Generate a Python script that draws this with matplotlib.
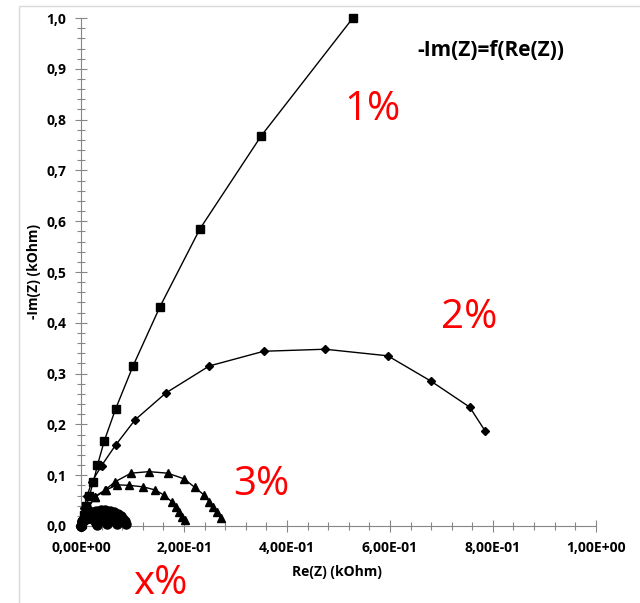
import matplotlib.pyplot as plt
from matplotlib.patches import Rectangle

# --- data (Re(Z), -Im(Z)) in kOhm ---
re_1 = [0.528, 0.350, 0.231, 0.153, 0.101, 0.067, 0.045, 0.032, 0.024, 0.016, 0.010, 0.005, 0.001]
im_1 = [1.000, 0.768, 0.585, 0.431, 0.315, 0.230, 0.167, 0.120, 0.087, 0.059, 0.040, 0.022, 0.006]

re_2 = [0.785, 0.755, 0.680, 0.596, 0.474, 0.355, 0.249, 0.165, 0.105, 0.067, 0.040, 0.021, 0.012, 0.006, 0.002]
im_2 = [0.187, 0.234, 0.285, 0.335, 0.348, 0.344, 0.315, 0.262, 0.209, 0.159, 0.119, 0.087, 0.060, 0.035, 0.012]

re_3a = [0.271, 0.265, 0.257, 0.249, 0.239, 0.221, 0.200, 0.168, 0.132, 0.097, 0.066, 0.047, 0.027, 0.015, 0.006, 0.001]
im_3a = [0.015, 0.028, 0.038, 0.048, 0.061, 0.076, 0.093, 0.104, 0.107, 0.104, 0.087, 0.071, 0.058, 0.038, 0.018, 0.004]

re_3b = [0.202, 0.197, 0.191, 0.184, 0.176, 0.161, 0.144, 0.121, 0.094, 0.070, 0.049, 0.027, 0.014, 0.005, 0.001]
im_3b = [0.012, 0.018, 0.028, 0.038, 0.048, 0.061, 0.071, 0.077, 0.080, 0.081, 0.071, 0.057, 0.036, 0.016, 0.004]

# x% : several small overlapping arcs near the origin
re_xa = [0.000, 0.003, 0.007, 0.013, 0.021, 0.030, 0.039, 0.047, 0.056, 0.064, 0.071, 0.077, 0.082, 0.085, 0.087]
im_xa = [0.000, 0.011, 0.017, 0.022, 0.027, 0.030, 0.031, 0.031, 0.029, 0.027, 0.023, 0.019, 0.014, 0.009, 0.004]
re_xb = [0.000, 0.002, 0.005, 0.010, 0.017, 0.024, 0.031, 0.037, 0.044, 0.051, 0.056, 0.061, 0.065, 0.067, 0.069]
im_xb = [0.000, 0.009, 0.014, 0.019, 0.023, 0.025, 0.026, 0.026, 0.025, 0.022, 0.019, 0.015, 0.011, 0.007, 0.004]
re_xc = [0.000, 0.002, 0.004, 0.008, 0.013, 0.018, 0.023, 0.028, 0.033, 0.038, 0.042, 0.045, 0.048, 0.050, 0.051]
im_xc = [0.000, 0.007, 0.011, 0.015, 0.018, 0.020, 0.021, 0.021, 0.020, 0.018, 0.015, 0.012, 0.009, 0.006, 0.003]
re_xd = [0.000, 0.002, 0.005, 0.009, 0.014, 0.019, 0.023, 0.027, 0.029, 0.031]
im_xd = [0.000, 0.007, 0.011, 0.013, 0.015, 0.015, 0.013, 0.010, 0.006, 0.002]

x_ticks = [0.0, 0.2, 0.4, 0.6, 0.8, 1.0]
x_ticklabels = ["0,00E+00", "2,00E-01", "4,00E-01", "6,00E-01", "8,00E-01", "1,00E+00"]
y_ticks = [0.0, 0.1, 0.2, 0.3, 0.4, 0.5, 0.6, 0.7, 0.8, 0.9, 1.0]
y_ticklabels = ["0,0", "0,1", "0,2", "0,3", "0,4", "0,5", "0,6", "0,7", "0,8", "0,9", "1,0"]

plt.rcParams['font.family'] = ['Open Sans', 'DejaVu Sans']

fig = plt.figure(figsize=(6.40, 6.03), dpi=100)
ax = fig.add_axes([0.1266, 0.1277, 0.8044, 0.8424])

# chart frame (light grey, like the Excel chart area)
fig.patches.append(Rectangle((19 / 640, -0.1), 1.2, (603 - 6) / 603 + 0.1,
                             transform=fig.transFigure, fill=False,
                             edgecolor='#d9d9d9', linewidth=1.0))

lw = 1.0
ax.plot(re_1, im_1, color='black', lw=lw, marker='s', ms=5.6, zorder=3, clip_on=False)
ax.plot(re_2, im_2, color='black', lw=lw, marker='D', ms=4.2, zorder=3, clip_on=False)
ax.plot(re_3a, im_3a, color='black', lw=lw, marker='^', ms=5.8, zorder=3, clip_on=False)
ax.plot(re_3b, im_3b, color='black', lw=lw, marker='^', ms=5.8, zorder=3, clip_on=False)
for xs, ys in [(re_xa, im_xa), (re_xb, im_xb), (re_xc, im_xc), (re_xd, im_xd)]:
    ax.plot(xs, ys, color='black', lw=lw, marker='o', ms=6.5, zorder=3, clip_on=False)

ax.set_xlim(0, 1.0)
ax.set_ylim(0, 1.0)
ax.set_xticks(x_ticks)
ax.set_xticklabels(x_ticklabels, fontweight='bold', fontsize=10)
ax.set_yticks(y_ticks)
ax.set_yticklabels(y_ticklabels, fontweight='bold', fontsize=10)
ax.set_xticks([i * 0.04 for i in range(26)], minor=True)
ax.set_yticks([i * 0.02 for i in range(51)], minor=True)

for s in ['top', 'right']:
    ax.spines[s].set_visible(False)
for s in ['left', 'bottom']:
    ax.spines[s].set_color('#868686')
    ax.spines[s].set_linewidth(0.8)
ax.tick_params(which='major', direction='inout', length=9, width=0.8, color='#868686', pad=6)
ax.tick_params(which='minor', direction='inout', length=6, width=0.8, color='#868686')

fig.text(337 / 640, 1 - 572 / 603, "Re(Z) (kOhm)", ha='center', va='center',
         fontsize=10, fontweight='bold')
fig.text(34 / 640, 1 - 272 / 603, "-Im(Z) (kOhm)", ha='center', va='center',
         rotation=90, fontsize=10, fontweight='bold')

fig.text(491 / 640, 1 - 51 / 603, "-Im(Z)=f(Re(Z))", ha='center', va='center',
         fontsize=15, fontweight='bold')

red = '#ff0000'
fig.text(372 / 640, 1 - 110 / 603, "1%", ha='center', va='center', fontsize=29, color=red)
fig.text(469 / 640, 1 - 318 / 603, "2%", ha='center', va='center', fontsize=29, color=red)
fig.text(261 / 640, 1 - 485 / 603, "3%", ha='center', va='center', fontsize=29, color=red)
fig.text(160 / 640, 1 - 584 / 603, "x%", ha='center', va='center', fontsize=29, color=red)

fig.savefig("out.png", dpi=100)
